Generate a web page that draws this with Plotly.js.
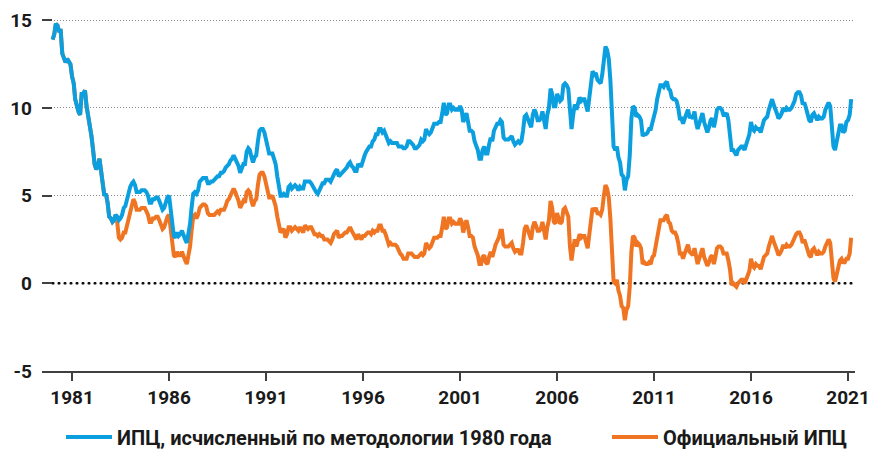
<!DOCTYPE html>
<html><head><meta charset="utf-8">
<script src="https://cdn.plot.ly/plotly-3.0.1.min.js"></script>
<style>html,body{margin:0;padding:0;background:#fff}#chart{width:870px;height:450px}</style>
</head><body><div id="chart"></div>
<script>
// Monthly series, January 1980 .. March 2021 (year-over-year, %)
const startYear = 1980;

const officialCPI = [
 13.9,14.2,14.8,14.7,14.4,14.4,13.1,12.9,12.6,12.8,12.6,12.5,
 11.8,11.4,10.5,10.0,9.8,9.6,10.8,10.8,11.0,10.1,9.6,8.9,
 8.4,7.6,6.8,6.5,6.7,7.1,6.4,5.9,5.0,5.1,4.6,3.8,
 3.7,3.5,3.6,3.9,3.5,2.6,2.5,2.6,2.9,2.9,3.3,3.8,
 4.2,4.6,4.8,4.6,4.2,4.2,4.2,4.3,4.3,4.3,4.1,3.9,
 3.5,3.5,3.7,3.7,3.8,3.8,3.6,3.3,3.1,3.2,3.5,3.8,
 3.9,3.1,2.2,1.6,1.5,1.8,1.6,1.6,1.8,1.5,1.3,1.1,
 1.5,2.1,3.0,3.8,3.9,3.7,3.9,4.3,4.4,4.5,4.5,4.4,
 4.0,3.9,3.9,3.9,3.9,4.0,4.1,4.0,4.2,4.2,4.2,4.4,
 4.7,4.8,5.0,5.1,5.4,5.2,5.0,4.7,4.3,4.5,4.7,4.6,
 5.2,5.3,5.2,4.7,4.4,4.7,4.8,5.6,6.2,6.3,6.3,6.1,
 5.7,5.3,4.9,4.9,5.0,4.7,4.4,3.8,3.4,2.9,3.0,3.1,
 2.6,2.8,3.2,3.2,3.0,3.1,3.2,3.1,3.0,3.2,3.0,2.9,
 3.3,3.2,3.1,3.2,3.2,3.0,2.8,2.8,2.7,2.8,2.7,2.7,
 2.5,2.5,2.5,2.4,2.3,2.5,2.8,2.9,3.0,2.6,2.7,2.7,
 2.8,2.9,2.9,3.1,3.2,3.0,2.8,2.6,2.5,2.8,2.6,2.5,
 2.7,2.7,2.8,2.9,2.9,2.8,3.0,2.9,3.0,3.0,3.3,3.3,
 3.0,3.0,2.8,2.5,2.2,2.3,2.2,2.2,2.2,2.1,1.8,1.7,
 1.6,1.4,1.4,1.4,1.7,1.7,1.7,1.6,1.5,1.5,1.5,1.6,
 1.7,1.6,1.7,2.3,2.1,2.0,2.1,2.3,2.6,2.6,2.6,2.7,
 2.7,3.2,3.8,3.1,3.2,3.7,3.7,3.4,3.5,3.4,3.4,3.4,
 3.7,3.5,2.9,3.3,3.6,3.2,2.7,2.7,2.6,2.1,1.9,1.6,
 1.1,1.1,1.5,1.6,1.2,1.1,1.5,1.8,1.5,2.0,2.2,2.4,
 2.6,3.0,3.0,2.2,2.1,2.1,2.1,2.2,2.3,2.0,1.8,1.9,
 1.9,1.7,1.7,2.3,3.1,3.3,3.0,2.7,2.5,3.2,3.5,3.3,
 3.0,3.0,3.1,3.5,2.8,2.5,3.2,3.6,4.7,4.3,3.5,3.4,
 4.0,3.6,3.4,3.5,4.2,4.3,4.1,3.8,2.1,1.3,2.0,2.5,
 2.1,2.4,2.8,2.6,2.7,2.7,2.4,2.0,2.8,3.5,4.3,4.1,
 4.3,4.0,4.0,3.9,4.2,5.0,5.6,5.4,4.9,3.7,1.1,0.1,
 0.0,0.2,-0.4,-0.7,-1.3,-1.4,-2.1,-1.5,-1.3,-0.2,1.8,2.7,
 2.6,2.1,2.3,2.2,2.0,1.1,1.2,1.1,1.1,1.2,1.1,1.5,
 1.6,2.1,2.7,3.2,3.6,3.6,3.6,3.8,3.9,3.5,3.4,3.0,
 2.9,2.9,2.7,2.3,1.7,1.7,1.4,1.7,2.0,2.2,1.8,1.7,
 1.6,2.0,1.5,1.1,1.4,1.8,2.0,1.5,1.2,1.0,1.2,1.5,
 1.6,1.1,1.5,2.0,2.1,2.1,2.0,1.7,1.7,1.7,1.3,0.8,
 -0.1,0.0,-0.1,-0.2,0.0,0.1,0.2,0.2,0.0,0.2,0.5,0.7,
 1.4,1.0,0.9,1.1,1.0,1.0,0.8,1.1,1.5,1.6,1.7,2.1,
 2.5,2.7,2.4,2.2,1.9,1.6,1.7,1.9,2.2,2.0,2.2,2.1,
 2.1,2.2,2.4,2.5,2.8,2.9,2.9,2.7,2.3,2.5,2.2,1.9,
 1.6,1.5,1.9,2.0,1.8,1.6,1.8,1.7,1.7,1.8,2.1,2.3,
 2.5,2.3,1.5,0.3,0.1,0.6,1.0,1.3,1.4,1.2,1.2,1.4,
 1.4,1.7,2.6
];

const cpi1980Method = [
 13.9,14.2,14.8,14.7,14.4,14.4,13.1,12.9,12.6,12.8,12.6,12.5,
 11.8,11.4,10.5,10.0,9.8,9.6,10.8,10.8,11.0,10.1,9.6,8.9,
 8.4,7.6,6.8,6.5,6.7,7.1,6.4,5.9,5.0,5.1,4.6,3.8,
 3.7,3.5,3.6,3.9,3.8,3.6,3.7,3.9,4.3,4.4,4.8,5.2,
 5.5,5.7,5.8,5.6,5.2,5.2,5.2,5.3,5.3,5.3,5.2,5.0,
 4.6,4.6,4.8,4.8,4.9,4.9,4.7,4.4,4.2,4.3,4.6,4.9,
 5.0,4.2,3.3,2.7,2.6,2.9,2.7,2.8,3.0,2.7,2.5,2.3,
 2.8,3.4,4.3,5.1,5.2,5.1,5.3,5.8,5.9,6.0,6.0,6.0,
 5.7,5.7,5.8,5.8,5.9,6.0,6.1,6.1,6.3,6.3,6.4,6.6,
 6.7,6.8,7.0,7.1,7.3,7.1,6.9,6.7,6.3,6.5,6.8,6.8,
 7.5,7.7,7.6,7.2,6.9,7.2,7.3,8.1,8.7,8.8,8.8,8.6,
 8.2,7.8,7.4,7.4,7.4,7.1,6.8,6.1,5.6,5.0,5.0,5.1,
 5.0,5.0,5.5,5.6,5.4,5.5,5.6,5.5,5.3,5.5,5.4,5.4,
 5.8,5.8,5.8,5.8,5.7,5.5,5.3,5.2,5.1,5.3,5.4,5.7,
 5.7,5.9,5.9,5.9,5.8,6.0,6.3,6.4,6.5,6.1,6.2,6.3,
 6.4,6.5,6.6,6.8,6.9,6.7,6.6,6.4,6.4,6.8,6.7,6.7,
 7.1,7.3,7.5,7.7,7.8,7.8,8.1,8.2,8.5,8.5,8.8,8.8,
 8.6,8.7,8.5,8.3,8.0,8.1,8.0,8.0,8.0,8.0,7.8,7.8,
 7.8,7.7,7.7,7.8,8.1,8.1,8.0,7.9,7.7,7.7,7.8,7.9,
 8.2,8.1,8.2,8.8,8.6,8.5,8.6,8.8,9.1,9.1,9.1,9.2,
 9.2,9.7,10.3,9.6,9.7,10.2,10.2,9.9,10.0,9.9,9.9,9.9,
 10.1,9.9,9.2,9.5,9.7,9.2,8.7,8.7,8.6,8.1,7.9,7.6,
 7.1,7.1,7.6,7.8,7.4,7.4,7.9,8.3,8.1,8.7,8.9,9.1,
 9.1,9.3,9.2,8.3,8.2,8.2,8.2,8.3,8.4,8.1,7.9,8.0,
 8.1,8.0,8.1,8.7,9.5,9.6,9.4,9.1,8.9,9.6,9.9,9.7,
 9.3,9.3,9.4,9.8,9.1,8.8,9.6,10.0,11.1,10.8,10.1,10.1,
 10.8,10.5,10.4,10.5,11.3,11.4,11.3,11.1,9.5,8.8,9.6,10.2,
 9.9,10.2,10.6,10.4,10.5,10.5,10.2,9.8,10.6,11.3,12.1,11.9,
 12.0,11.6,11.5,11.4,11.9,13.0,13.5,13.3,12.8,11.6,8.9,7.8,
 7.6,7.8,7.2,6.9,6.2,6.1,5.3,5.9,6.1,7.3,9.4,10.1,
 10.0,9.5,9.6,9.5,9.3,8.4,8.5,8.5,8.6,8.8,8.8,9.2,
 9.4,9.9,10.5,11.0,11.3,11.3,11.2,11.4,11.5,11.1,11.0,10.6,
 10.5,10.5,10.4,10.0,9.4,9.4,9.1,9.4,9.7,9.9,9.5,9.5,
 9.4,9.8,9.2,8.8,9.1,9.5,9.7,9.2,8.8,8.6,8.9,9.3,
 9.4,8.9,9.3,9.9,10.0,10.0,9.9,9.6,9.6,9.7,9.3,8.6,
 7.6,7.6,7.4,7.3,7.6,7.7,7.8,7.8,7.6,7.9,8.3,8.5,
 9.2,8.8,8.7,8.9,8.8,8.8,8.6,8.9,9.3,9.4,9.5,9.9,
 10.3,10.5,10.2,10.0,9.7,9.4,9.5,9.7,10.0,9.8,10.0,9.9,
 9.9,10.0,10.2,10.4,10.8,10.9,10.9,10.7,10.2,10.3,10.0,9.7,
 9.3,9.2,9.6,9.7,9.5,9.3,9.5,9.4,9.4,9.5,9.9,10.1,
 10.3,10.1,9.1,7.8,7.6,8.1,8.7,9.0,9.0,8.6,8.7,9.2,
 9.3,9.6,10.5
];

const seriesNames = ['ИПЦ, исчисленный по методологии 1980 года', 'Официальный ИПЦ'];
const tickYears = [1981, 1986, 1991, 1996, 2001, 2006, 2011, 2016, 2021];
const yTickValues = [-5, 0, 5, 10, 15];

const dates = officialCPI.map((_, i) => {
  const y = startYear + Math.floor(i / 12);
  const m = (i % 12) + 1;
  return y + '-' + String(m).padStart(2, '0') + '-01';
});

const FONT = "Roboto, 'Liberation Sans', sans-serif";
const BLUE = '#0b9fdf';
const ORANGE = '#f07522';

const traces = [
  {
    type: 'scatter', mode: 'lines', x: dates, y: officialCPI, name: seriesNames[1],
    line: {color: ORANGE, width: 4}, legend: 'legend2', hoverinfo: 'skip'
  },
  {
    type: 'scatter', mode: 'lines', x: dates, y: cpi1980Method, name: seriesNames[0],
    line: {color: BLUE, width: 4}, legend: 'legend', hoverinfo: 'skip'
  }
];

const legendFont = {family: FONT, size: 20, color: '#1a1a1a', weight: 'bold'};

const layout = {
  width: 870, height: 450,
  margin: {l: 42, r: 15, t: 15, b: 79},
  paper_bgcolor: '#fff', plot_bgcolor: '#fff',
  showlegend: true,
  xaxis: {
    type: 'date',
    range: ['1979-06-15', '2021-05-12'],
    tickmode: 'array',
    tickvals: tickYears.map(y => y + '-01-01'),
    ticktext: tickYears.map(String),
    ticks: 'outside', ticklen: 8, tickwidth: 2, tickcolor: '#404040',
    showline: true, linecolor: '#404040', linewidth: 2,
    showgrid: false, zeroline: false,
    ticklabeloverflow: 'allow',
    tickfont: {family: FONT, size: 19, color: '#1a1a1a', weight: 'bold'},
    fixedrange: true
  },
  yaxis: {
    range: [-5, 15.3],
    tickmode: 'array',
    tickvals: yTickValues,
    ticktext: yTickValues.map(String),
    ticks: 'inside', ticklen: 10, tickwidth: 2, tickcolor: '#404040',
    showgrid: true, gridcolor: '#8a8a8a', gridwidth: 1, griddash: '1px,2px',
    zeroline: false, showline: false,
    ticklabelstandoff: 9,
    tickfont: {family: FONT, size: 19, color: '#1a1a1a', weight: 'bold'},
    fixedrange: true
  },
  shapes: [{
    type: 'line', xref: 'paper', x0: 0.012, x1: 1, yref: 'y', y0: 0, y1: 0,
    line: {color: '#111', width: 2.5, dash: '2.5px,3.5px'}, layer: 'between'
  }],
  legend: {
    orientation: 'h', xref: 'container', yref: 'container',
    x: 61 / 870, y: 13 / 450, xanchor: 'left', yanchor: 'middle',
    itemwidth: 46,
    font: legendFont, bgcolor: 'rgba(0,0,0,0)', borderwidth: 0
  },
  legend2: {
    orientation: 'h', xref: 'container', yref: 'container',
    x: 607 / 870, y: 13 / 450, xanchor: 'left', yanchor: 'middle',
    itemwidth: 46,
    font: legendFont, bgcolor: 'rgba(0,0,0,0)', borderwidth: 0
  }
};

Plotly.newPlot('chart', traces, layout, {staticPlot: true, displayModeBar: false});
</script>
</body></html>
